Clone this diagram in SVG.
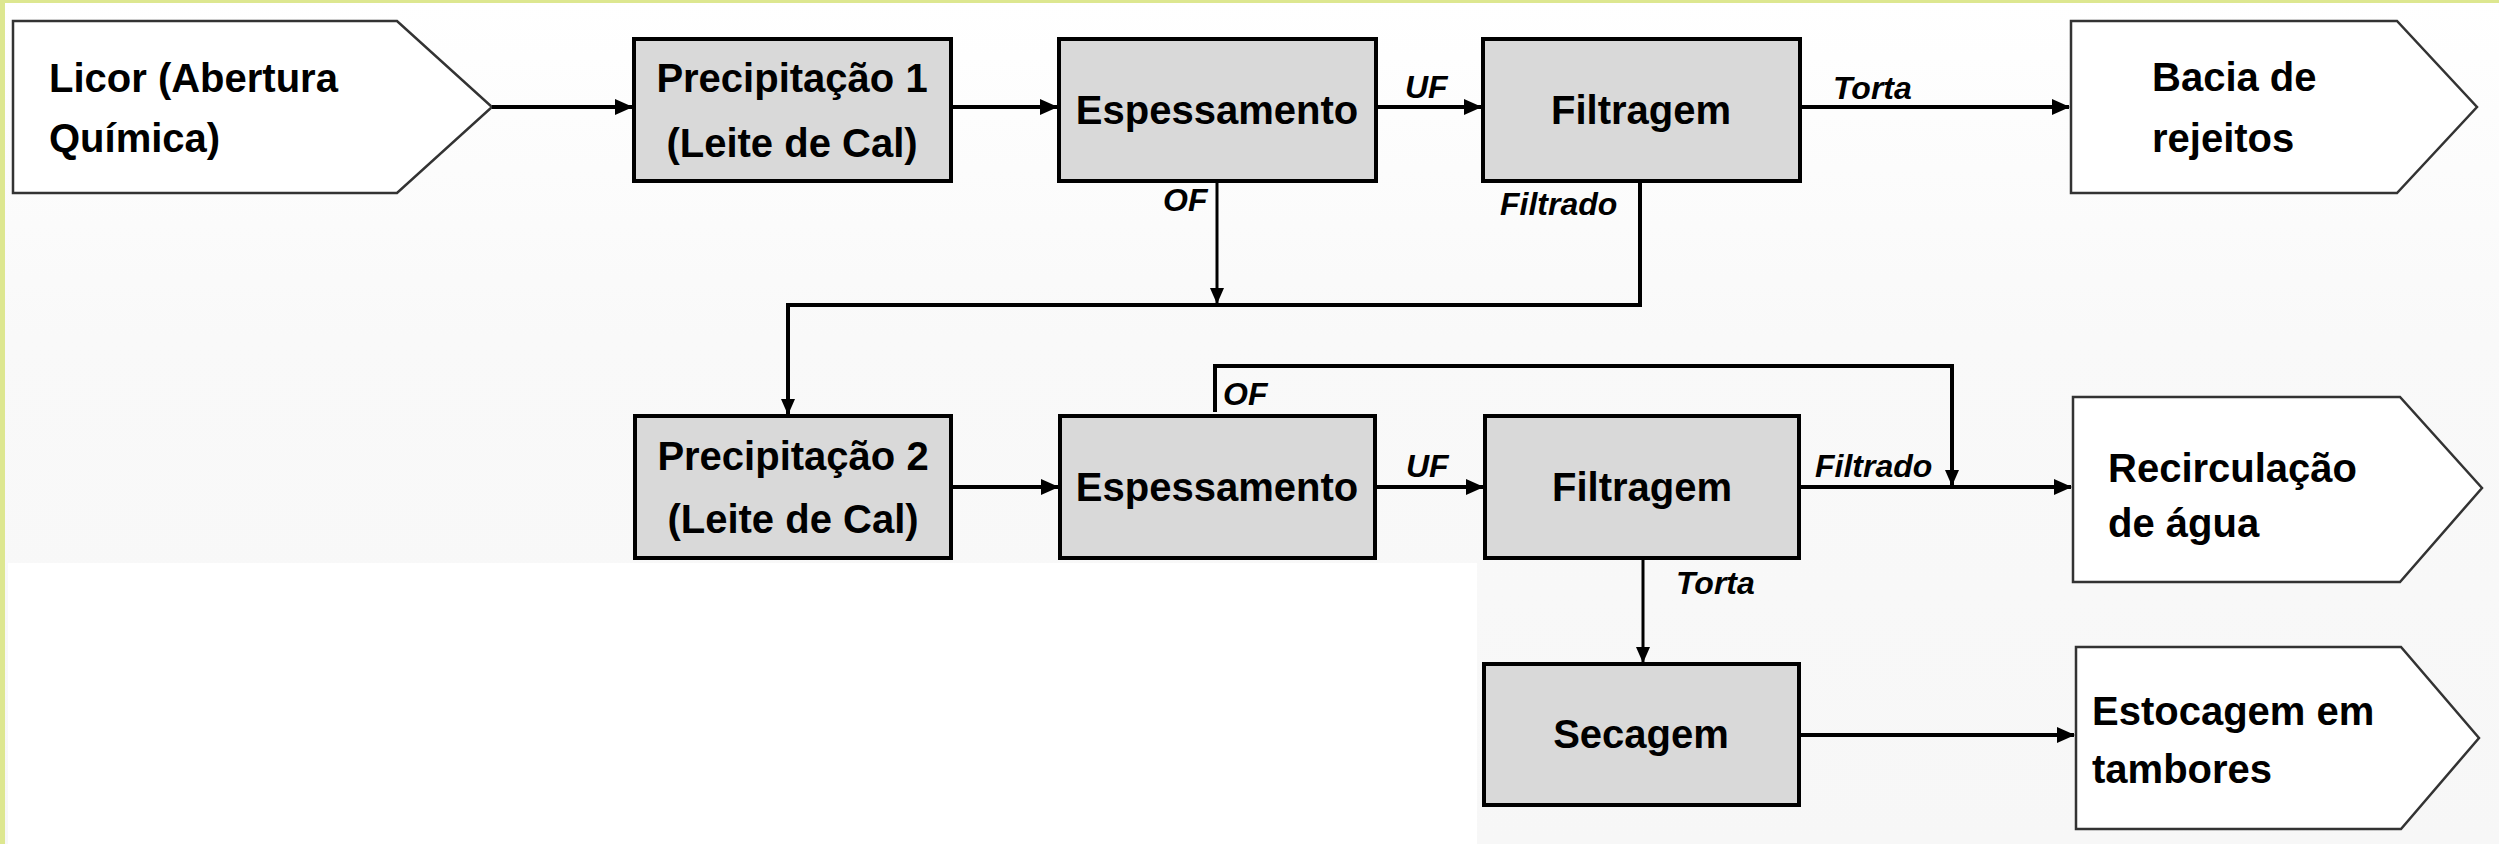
<svg xmlns="http://www.w3.org/2000/svg" width="2499" height="844" viewBox="0 0 2499 844">
<defs>
<linearGradient id="bg" x1="0" y1="0" x2="0" y2="1">
<stop offset="0" stop-color="#ffffff"/>
<stop offset="0.4" stop-color="#f9f9f9"/>
<stop offset="1" stop-color="#f7f7f7"/>
</linearGradient>
<marker id="ah" markerUnits="userSpaceOnUse" markerWidth="18" markerHeight="18" viewBox="0 0 18 18" refX="17" refY="9" orient="auto">
<path d="M0,1 L18,9 L0,17 Z" fill="#000"/>
</marker>
<marker id="ahs" markerUnits="userSpaceOnUse" markerWidth="16" markerHeight="16" viewBox="0 0 16 16" refX="15" refY="8" orient="auto">
<path d="M0,1 L16,8 L0,15 Z" fill="#000"/>
</marker>
</defs>
<style>
.proc{fill:#d9d9d9;stroke:#000;stroke-width:4}
.term{fill:#fff;stroke:#333;stroke-width:2.5}
.t{font-family:"Liberation Sans",Arial,sans-serif;font-weight:bold;font-size:40px;fill:#000}
.tc{text-anchor:middle}
.lbl{font-family:"Liberation Sans",Arial,sans-serif;font-weight:bold;font-style:italic;font-size:32px;fill:#000}
.c{fill:none;stroke:#000;stroke-width:4}
.cs{fill:none;stroke:#000;stroke-width:3}
</style>
<rect x="0" y="0" width="2499" height="844" fill="url(#bg)"/>
<rect x="8" y="563" width="1469" height="281" fill="#ffffff"/>
<rect x="0" y="0" width="5" height="844" fill="#dde790"/>
<rect x="0" y="0" width="2499" height="3" fill="#dde790"/>

<g id="licor">
<path class="term" d="M13,21 H397 L492,107 L397,193 H13 Z"/>
<text class="t" x="49" y="92">Licor (Abertura</text>
<text class="t" x="49" y="152">Química)</text>
</g>
<g id="prec1">
<rect class="proc" x="634" y="39" width="317" height="142"/>
<text class="t tc" x="792" y="92">Precipitação 1</text>
<text class="t tc" x="792" y="157">(Leite de Cal)</text>
</g>
<g id="esp1">
<rect class="proc" x="1059" y="39" width="317" height="142"/>
<text class="t tc" x="1217" y="124">Espessamento</text>
</g>
<g id="filt1">
<rect class="proc" x="1483" y="39" width="317" height="142"/>
<text class="t tc" x="1641" y="124">Filtragem</text>
</g>
<g id="bacia">
<path class="term" d="M2071,21 H2397 L2477,107 L2397,193 H2071 Z"/>
<text class="t" x="2152" y="91">Bacia de</text>
<text class="t" x="2152" y="152">rejeitos</text>
</g>
<g id="prec2">
<rect class="proc" x="635" y="416" width="316" height="142"/>
<text class="t tc" x="793" y="470">Precipitação 2</text>
<text class="t tc" x="793" y="533">(Leite de Cal)</text>
</g>
<g id="esp2">
<rect class="proc" x="1060" y="416" width="315" height="142"/>
<text class="t tc" x="1217" y="501">Espessamento</text>
</g>
<g id="filt2">
<rect class="proc" x="1485" y="416" width="314" height="142"/>
<text class="t tc" x="1642" y="501">Filtragem</text>
</g>
<g id="recirc">
<path class="term" d="M2073,397 H2400 L2482,488 L2400,582 H2073 Z"/>
<text class="t" x="2108" y="482">Recirculação</text>
<text class="t" x="2108" y="537">de água</text>
</g>
<g id="secagem">
<rect class="proc" x="1484" y="664" width="315" height="141"/>
<text class="t tc" x="1641" y="748">Secagem</text>
</g>
<g id="estoc">
<path class="term" d="M2076,647 H2401 L2479,738 L2401,829 H2076 Z"/>
<text class="t" x="2092" y="725">Estocagem em</text>
<text class="t" x="2092" y="783">tambores</text>
</g>

<g id="connectors">
<path class="c" d="M492,107 H632" marker-end="url(#ah)"/>
<path class="c" d="M951,107 H1057" marker-end="url(#ah)"/>
<path class="c" d="M1376,107 H1481" marker-end="url(#ah)"/>
<path class="c" d="M1800,107 H2069" marker-end="url(#ah)"/>
<path class="cs" d="M1217,181 V303" marker-end="url(#ahs)"/>
<path class="c" d="M1640,181 V305 H788 V414" marker-end="url(#ahs)"/>
<path class="c" d="M951,487 H1058" marker-end="url(#ah)"/>
<path class="c" d="M1375,487 H1483" marker-end="url(#ah)"/>
<path class="c" d="M1799,487 H2071" marker-end="url(#ah)"/>
<path class="c" d="M1215,412 V366 H1952 V485" marker-end="url(#ahs)"/>
<path class="cs" d="M1643,558 V662" marker-end="url(#ahs)"/>
<path class="c" d="M1799,735 H2074" marker-end="url(#ah)"/>
<text class="lbl" x="1405" y="98">UF</text>
<text class="lbl" x="1833" y="99">Torta</text>
<text class="lbl" x="1163" y="211">OF</text>
<text class="lbl" x="1500" y="215">Filtrado</text>
<text class="lbl" x="1223" y="405">OF</text>
<text class="lbl" x="1406" y="477">UF</text>
<text class="lbl" x="1815" y="477">Filtrado</text>
<text class="lbl" x="1676" y="594">Torta</text>
</g>
</svg>
